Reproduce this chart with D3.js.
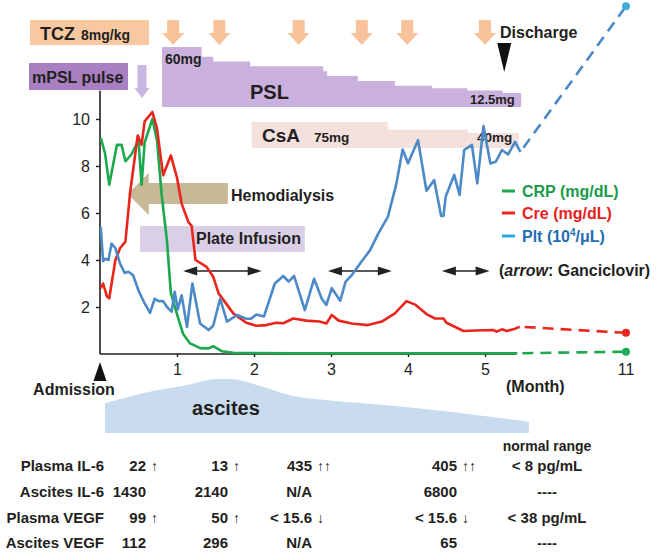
<!DOCTYPE html>
<html><head><meta charset="utf-8">
<script src="https://cdn.jsdelivr.net/npm/d3@7"></script>
<style>
body{margin:0;background:#fff;}
svg{display:block;font-family:"Liberation Sans",Arial,Helvetica,sans-serif;}
</style></head><body>
<svg id="chart" width="661" height="553"></svg>
<script>
// ---------------- DATA ----------------
const crpMonths = [0.01,0.065,0.12,0.22,0.28,0.33,0.41,0.50,0.54,0.58,0.68,0.74,0.80,0.87,0.92,1.00,1.08,1.17,1.30,1.41,1.47,1.58,1.73,2.5,3.5,4.5,5.42];
const crpValues = [9.2,8.55,7.2,8.9,8.9,8.2,8.5,9.1,7.2,9.0,10.0,9.1,6.8,4.8,2.6,1.7,0.85,0.45,0.25,0.24,0.33,0.12,0.05,0.03,0.03,0.03,0.03];

const creMonths = [0.01,0.04,0.09,0.12,0.20,0.26,0.33,0.39,0.49,0.54,0.58,0.68,0.74,0.82,0.92,1.00,1.06,1.15,1.19,1.24,1.38,1.47,1.54,1.65,1.73,1.90,2.03,2.16,2.29,2.38,2.51,2.68,2.85,2.94,3.01,3.10,3.27,3.48,3.66,3.83,3.98,4.10,4.24,4.35,4.46,4.50,4.72,4.88,5.11,5.15,5.22,5.28,5.37,5.45];
const creValues = [2.8,3.0,2.45,2.37,4.0,4.5,4.78,6.84,9.3,8.9,9.9,10.3,9.6,7.6,8.45,7.5,6.4,5.6,5.45,4.0,3.72,3.29,2.58,2.09,1.73,1.33,1.2,1.23,1.33,1.31,1.51,1.42,1.38,1.3,1.66,1.42,1.3,1.23,1.38,1.73,2.25,2.09,1.7,1.51,1.51,1.33,0.98,1.0,1.02,0.95,1.05,0.98,1.05,1.16];

const pltMonths = [0.01,0.04,0.07,0.11,0.15,0.20,0.26,0.32,0.37,0.43,0.50,0.58,0.65,0.71,0.76,0.82,0.87,0.93,0.97,1.01,1.06,1.13,1.20,1.30,1.41,1.47,1.56,1.65,1.78,1.90,1.96,2.03,2.13,2.27,2.38,2.45,2.52,2.66,2.78,2.88,2.94,3.01,3.12,3.19,3.27,3.39,3.51,3.61,3.74,3.85,3.93,4.00,4.13,4.24,4.34,4.43,4.46,4.49,4.60,4.67,4.73,4.83,4.90,4.98,5.07,5.14,5.22,5.30,5.39,5.46];
const pltValues = [5.4,3.95,4.05,4.0,4.7,4.5,3.85,3.45,3.5,3.35,2.7,2.15,1.75,2.35,2.25,2.25,2.0,1.8,2.65,1.9,2.5,1.15,3.0,1.3,1.02,1.2,2.35,1.38,1.66,1.5,1.5,1.68,1.6,3.0,3.32,3.08,3.32,1.87,3.2,2.35,2.09,2.8,2.27,3.08,3.36,3.9,4.43,5.1,5.85,7.26,8.7,8.12,9.1,6.95,7.4,5.87,5.87,6.7,7.62,6.77,8.68,8.9,7.26,9.7,8.11,8.18,8.68,8.49,9.03,8.6];

const lateMonth = 11;
const crpLate = 0.1, creLate = 0.9, pltLate = 14.8;

const yTicks = [2,4,6,8,10];
const xTicks = [1,2,3,4,5];

const tczMonths = [0.95,1.55,2.58,3.40,3.99,5.0];
const mpslMonths = [0.545];
const dischargeMonth = 5.25;
const pslMonths = [0.805,1.32,1.47,1.95,2.90,2.95,3.35,3.83,4.31,4.77,5.23,5.47];
const pslDoses  = [60,50,45,40,35,30,25,20,17.5,15,12.5,12.5];
const csaMonths = [1.97,3.74,4.78,5.44];
const csaDoses  = [75,50,40,40];
const hemodialysisPeriod = [0.36,1.66];
const plateInfusionPeriod = [0.52,2.66];
const ganciclovirStarts = [1.08,2.96,4.44];
const ganciclovirEnds   = [2.10,3.79,5.06];
const ascitesMonths = [0.065,0.74,1.13,1.52,1.69,2.04,2.47,2.99,3.77,5.57];
const ascitesLevels = [5.5,7.9,8.9,10,10,8.9,7.0,6.0,5.1,2.1];

const tableLabels = ["Plasma IL-6","Ascites IL-6","Plasma VEGF","Ascites VEGF"];
const plasmaIL6   = ["22","13","435","405"];
const plasmaIL6Flags = ["↑","↑","↑↑","↑↑"];
const ascitesIL6  = ["1430","2140","N/A","6800"];
const plasmaVEGF  = ["99","50","< 15.6","< 15.6"];
const plasmaVEGFFlags = ["↑","↑","↓","↓"];
const ascitesVEGF = ["112","296","N/A","65"];
const normalRanges = ["< 8 pg/mL","----","< 38 pg/mL","----"];

// ---------------- DRAW ----------------
const svg = d3.select("#chart");
const ink = "#231f20";
const cCRP = "#1ca84c", cCre = "#e9251c", cPlt = "#4b89c7";

const x = d3.scaleLinear().domain([0,5.6,11]).range([100,531.2,626]);
const y = d3.scaleLinear().domain([0,10]).range([354,119]);
const pslY = d3.scaleLinear().domain([12.5,60]).range([93,47]);
const csaY = d3.scaleLinear().domain([40,75]).range([133,122]);
const ascY = d3.scaleLinear().domain([0,10]).range([433,379]);

// ascites
const ascData = ascitesMonths.map((m,i)=>[m,ascitesLevels[i]]);
svg.append("path")
  .attr("d", d3.area().x(d=>x(d[0])).y0(ascY(0)).y1(d=>ascY(d[1])).curve(d3.curveMonotoneX)(ascData))
  .attr("fill","#c9dcef");
svg.append("text").attr("x",192).attr("y",415).text("ascites")
  .attr("font-size",20).attr("font-weight","bold").attr("fill",ink);

// TCZ box
svg.append("rect").attr("x",30).attr("y",20).attr("width",119).attr("height",25).attr("fill","#f8c9a1");
svg.append("text").attr("x",40).attr("y",40).attr("font-weight","bold").attr("fill",ink)
  .call(t=>{t.append("tspan").attr("font-size",18).text("TCZ");
            t.append("tspan").attr("font-size",14).attr("dx",6).text("8mg/kg");});
// TCZ arrows
tczMonths.forEach(m=>{
  const cx = x(m);
  svg.append("path").attr("fill","#f8c39a")
    .attr("d",`M${cx-6},20 L${cx+6},20 L${cx+6},33 L${cx+11},33 L${cx},45 L${cx-11},33 L${cx-6},33 Z`);
});

// mPSL
svg.append("rect").attr("x",29).attr("y",63).attr("width",99).attr("height",27).attr("fill","#a880c1");
svg.append("text").attr("x",32).attr("y",83).attr("font-size",16).attr("font-weight","bold").attr("fill",ink).text("mPSL pulse");
mpslMonths.forEach(m=>{
  const cx = x(m);
  svg.append("path").attr("fill","#c8b6e2")
    .attr("d",`M${cx-4.5},65 L${cx+4.5},65 L${cx+4.5},88 L${cx+7.5},88 L${cx},98 L${cx-7.5},88 L${cx-4.5},88 Z`);
});

// PSL area
const pslData = pslMonths.map((m,i)=>[m,pslDoses[i]]);
svg.append("path")
  .attr("d", d3.area().x(d=>x(d[0])).y0(107).y1(d=>pslY(d[1])).curve(d3.curveStepAfter)(pslData))
  .attr("fill","#cab0dc");
svg.append("text").attr("x",165).attr("y",64).attr("font-size",14).attr("font-weight","bold").attr("fill",ink).text("60mg");
svg.append("text").attr("x",250).attr("y",99).attr("font-size",20).attr("font-weight","bold").attr("fill",ink).text("PSL");
svg.append("text").attr("x",470).attr("y",104).attr("font-size",13).attr("font-weight","bold").attr("fill",ink).text("12.5mg");

// Discharge
const dx = x(dischargeMonth);
svg.append("path").attr("fill","#111").attr("d",`M${dx-7},43 L${dx+7},43 L${dx},72 Z`);
svg.append("text").attr("x",500).attr("y",38).attr("font-size",16).attr("font-weight","bold").attr("fill",ink).text("Discharge");

// CsA
const csaData = csaMonths.map((m,i)=>[m,csaDoses[i]]);
svg.append("path")
  .attr("d", d3.area().x(d=>x(d[0])).y0(148).y1(d=>csaY(d[1])).curve(d3.curveStepAfter)(csaData))
  .attr("fill","#f4e1dd");
svg.append("text").attr("x",262).attr("y",142).attr("font-weight","bold").attr("fill",ink)
  .call(t=>{t.append("tspan").attr("font-size",19).text("CsA");
            t.append("tspan").attr("font-size",13.5).attr("dx",14).text("75mg");});
svg.append("text").attr("x",477).attr("y",142).attr("font-size",13.5).attr("font-weight","bold").attr("fill",ink).text("40mg");

// Hemodialysis arrow
{
  const tip = x(hemodialysisPeriod[0]), tail = x(hemodialysisPeriod[1]), hb = tip+21;
  svg.append("path").attr("fill","#c7b898")
    .attr("d",`M${tip},194 L${hb},173 L${hb},183 L${tail},183 L${tail},204 L${hb},204 L${hb},215 Z`);
  svg.append("text").attr("x",231).attr("y",201).attr("font-size",16).attr("font-weight","bold").attr("fill",ink).text("Hemodialysis");
}
// Plate infusion
svg.append("rect").attr("x",x(plateInfusionPeriod[0])).attr("y",226)
  .attr("width",x(plateInfusionPeriod[1])-x(plateInfusionPeriod[0])).attr("height",26).attr("fill","#d9d0e7");
svg.append("text").attr("x",196).attr("y",244).attr("font-size",16).attr("font-weight","bold").attr("fill",ink).text("Plate Infusion");

// Ganciclovir arrows
ganciclovirStarts.forEach((s,i)=>{
  const a = x(s), b = x(ganciclovirEnds[i]), yy = 271;
  svg.append("line").attr("x1",a+6).attr("x2",b-6).attr("y1",yy).attr("y2",yy).attr("stroke","#222").attr("stroke-width",1.6);
  svg.append("path").attr("fill","#222").attr("d",`M${a},${yy} L${a+14},${yy-4.5} L${a+14},${yy+4.5} Z`);
  svg.append("path").attr("fill","#222").attr("d",`M${b},${yy} L${b-14},${yy-4.5} L${b-14},${yy+4.5} Z`);
});
svg.append("text").attr("x",499).attr("y",276).attr("font-size",16).attr("font-weight","bold").attr("fill",ink)
  .call(t=>{t.append("tspan").text("(");
            t.append("tspan").attr("font-style","italic").text("arrow");
            t.append("tspan").text(": Ganciclovir)");});

// Axes
svg.append("line").attr("x1",100).attr("x2",100).attr("y1",y(0)).attr("y2",y(11.2)).attr("stroke",ink).attr("stroke-width",1.6);
svg.append("line").attr("x1",100).attr("x2",x(5.4)).attr("y1",y(0)).attr("y2",y(0)).attr("stroke",ink).attr("stroke-width",1.6);
const yAxis = svg.append("g").attr("transform","translate(100,0)")
  .call(d3.axisLeft(y).tickValues(yTicks).tickSize(4).tickPadding(6));
yAxis.select(".domain").remove();
yAxis.selectAll("text").attr("font-size",16).attr("font-family",null).attr("fill",ink);
yAxis.selectAll("line").attr("stroke",ink).attr("stroke-width",1.4);
const xAxis = svg.append("g").attr("transform",`translate(0,${y(0)})`)
  .call(d3.axisBottom(x).tickValues(xTicks).tickSize(3).tickPadding(7).tickFormat(d3.format("d")));
xAxis.select(".domain").remove();
xAxis.selectAll("text").attr("font-size",16).attr("font-family",null).attr("fill",ink);
xAxis.selectAll("line").attr("stroke",ink).attr("stroke-width",1.4);
svg.append("text").attr("x",x(lateMonth)).attr("y",375).attr("text-anchor","middle").attr("font-size",16).attr("fill",ink).text(String(lateMonth));

// Admission
svg.append("path").attr("fill","#111").attr("d",`M${x(0)},362 L${x(0)+6.5},381 L${x(0)-6.5},381 Z`);
svg.append("text").attr("x",74).attr("y",395).attr("text-anchor","middle").attr("font-size",16).attr("font-weight","bold").attr("fill",ink).text("Admission");
svg.append("text").attr("x",506).attr("y",392).attr("font-size",16).attr("font-weight","bold").attr("fill",ink).text("(Month)");

// Lines
const line = d3.line().x(d=>x(d[0])).y(d=>y(d[1]));
function series(months, values, late, color){
  const data = months.map((m,i)=>[m,values[i]]);
  svg.append("path").attr("d",line(data)).attr("fill","none").attr("stroke",color)
    .attr("stroke-width",2.6).attr("stroke-linejoin","round");
  const last = data[data.length-1];
  svg.append("path").attr("d",line([last,[lateMonth,late]])).attr("fill","none").attr("stroke",color)
    .attr("stroke-width",2.6).attr("stroke-dasharray","11 7").attr("stroke-dashoffset",13);
  return data;
}
series(crpMonths,crpValues,crpLate,cCRP);
series(creMonths,creValues,creLate,cCre);
series(pltMonths,pltValues,pltLate,cPlt);
svg.append("circle").attr("cx",x(lateMonth)).attr("cy",y(crpLate)).attr("r",4).attr("fill","#1fae55");
svg.append("circle").attr("cx",x(lateMonth)).attr("cy",y(creLate)).attr("r",4).attr("fill","#e8261c");
svg.append("circle").attr("cx",x(lateMonth)).attr("cy",y(pltLate)).attr("r",4).attr("fill","#41acd8");

// Legend
const legend = [
  {label:"CRP (mg/dL)", line:cCRP, text:"#1a9a48", ly:191, ty:197},
  {label:"Cre (mg/dL)", line:cCre, text:"#e5221b", ly:213, ty:219},
  {label:"Plt", line:"#2aa8e0", text:"#1f6db4", ly:236, ty:242}
];
legend.forEach(l=>{
  svg.append("line").attr("x1",502).attr("x2",515).attr("y1",l.ly).attr("y2",l.ly).attr("stroke",l.line).attr("stroke-width",3);
  const t = svg.append("text").attr("x",522).attr("y",l.ty).attr("font-size",16).attr("font-weight","bold").attr("fill",l.text);
  if(l.label==="Plt"){
    t.append("tspan").text("Plt (10");
    t.append("tspan").attr("font-size",10).attr("dy",-6).text("4");
    t.append("tspan").attr("dy",6).text("/μL)");
  } else t.text(l.label);
});

// Table
const colRight = [146,228,312,457];
const normalX = 547, labelRight = 104, rowY = [471,497,523,548];
const rows = [
  {vals:plasmaIL6, flags:plasmaIL6Flags},
  {vals:ascitesIL6, flags:null},
  {vals:plasmaVEGF, flags:plasmaVEGFFlags},
  {vals:ascitesVEGF, flags:null}
];
svg.append("text").attr("x",normalX).attr("y",451).attr("text-anchor","middle").attr("font-size",14).attr("font-weight","bold").attr("fill",ink).text("normal range");
rows.forEach((r,ri)=>{
  const yy = rowY[ri];
  svg.append("text").attr("x",labelRight).attr("y",yy).attr("text-anchor","end").attr("font-size",15).attr("font-weight","bold").attr("fill",ink).text(tableLabels[ri]);
  r.vals.forEach((v,ci)=>{
    svg.append("text").attr("x",colRight[ci]).attr("y",yy).attr("text-anchor","end").attr("font-size",15).attr("font-weight","bold").attr("fill",ink).text(v);
    if(r.flags) svg.append("text").attr("x",colRight[ci]+5).attr("y",yy).attr("font-size",14).attr("fill",ink).text(r.flags[ci]);
  });
  svg.append("text").attr("x",normalX).attr("y",yy).attr("text-anchor","middle").attr("font-size",15).attr("font-weight","bold").attr("fill",ink).text(normalRanges[ri]);
});
</script>
</body></html>
